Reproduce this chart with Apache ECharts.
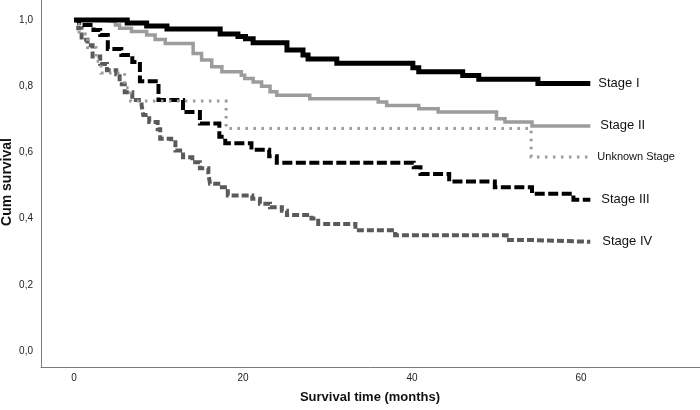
<!DOCTYPE html>
<html>
<head>
<meta charset="utf-8">
<script src="https://cdn.jsdelivr.net/npm/echarts@6/dist/echarts.min.js"></script>
<style>html,body{margin:0;padding:0;background:#fff}#c{width:700px;height:410px}</style>
</head>
<body>
<div id="c"></div>
<script>
const xTicks = [0, 20, 40, 60];
const yTicks = [0, 0.2, 0.4, 0.6, 0.8, 1.0];
const seriesNames = ['Stage I', 'Stage II', 'Unknown Stage', 'Stage III', 'Stage IV'];

const stage1Time = [0, 6.3, 8.6, 11.0, 17.3, 19.4, 20.3, 21.2, 25.2, 27.1, 27.7, 31.1, 40.1, 40.8, 46.0, 47.9, 54.9, 61.1];
const stage1Surv = [1.0, 0.991, 0.982, 0.973, 0.958, 0.95, 0.943, 0.931, 0.909, 0.894, 0.882, 0.869, 0.856, 0.844, 0.832, 0.821, 0.808, 0.808];

const stage2Time = [0, 3.3, 4.9, 5.4, 6.8, 8.6, 9.6, 10.8, 14.1, 15.1, 16.3, 17.5, 19.8, 20.2, 21.2, 22.2, 23.2, 24.0, 27.9, 36.0, 37.0, 40.8, 43.1, 50.0, 51.0, 54.2, 61.1];
const stage2Surv = [1.0, 0.995, 0.985, 0.975, 0.965, 0.955, 0.941, 0.929, 0.899, 0.879, 0.859, 0.844, 0.833, 0.823, 0.813, 0.8, 0.783, 0.773, 0.762, 0.752, 0.742, 0.732, 0.722, 0.702, 0.692, 0.68, 0.68];

const unknownTime = [0, 0.6, 1.6, 2.6, 3.2, 6.0, 6.7, 18.0, 54.1, 61.1];
const unknownSurv = [1.0, 0.958, 0.917, 0.875, 0.84, 0.795, 0.755, 0.672, 0.586, 0.586];

const stage3Time = [0, 0.6, 2.3, 3.1, 4.0, 5.6, 6.9, 7.8, 10.0, 12.9, 14.9, 17.2, 17.9, 21.0, 23.1, 24.0, 40.2, 41.0, 44.4, 49.8, 54.2, 59.1, 61.1];
const stage3Surv = [1.0, 0.985, 0.97, 0.955, 0.912, 0.894, 0.873, 0.815, 0.758, 0.722, 0.687, 0.647, 0.628, 0.608, 0.588, 0.569, 0.555, 0.535, 0.512, 0.495, 0.475, 0.457, 0.457];

const stage4Time = [0, 0.5, 0.9, 1.6, 2.2, 3.1, 3.9, 5.0, 5.4, 6.0, 6.9, 8.0, 8.2, 8.9, 9.9, 10.2, 11.5, 12.0, 12.9, 14.0, 14.9, 15.9, 16.1, 17.5, 18.2, 21.1, 22.0, 23.2, 24.6, 25.2, 28.1, 28.9, 33.3, 38.0, 51.2, 54.3, 61.1];
const stage4Surv = [1.0, 0.975, 0.94, 0.924, 0.89, 0.867, 0.848, 0.836, 0.806, 0.782, 0.758, 0.742, 0.713, 0.692, 0.67, 0.641, 0.631, 0.606, 0.585, 0.57, 0.552, 0.535, 0.505, 0.495, 0.47, 0.46, 0.445, 0.434, 0.424, 0.411, 0.4, 0.384, 0.365, 0.35, 0.335, 0.33, 0.33];

function pairs(t, s) { return t.map((v, i) => [v, s[i]]); }

const FONT = '"Liberation Sans", Arial, sans-serif';
const chart = echarts.init(document.getElementById('c'), null, { renderer: 'canvas' });

function mk(name, t, s, color, width, type, dist, fontSize, z) {
  return {
    name: name, type: 'line', step: 'end', data: pairs(t, s),
    showSymbol: false, symbol: 'none', z: z,
    lineStyle: { color: color, width: width, type: type, cap: 'butt', join: 'miter' },
    endLabel: { show: true, formatter: '{a}', distance: dist, fontSize: fontSize, color: '#111', fontFamily: FONT },
    emphasis: { disabled: true }
  };
}

chart.setOption({
  animation: false,
  backgroundColor: '#ffffff',
  grid: { left: 41, right: 0, top: 0, bottom: 43, containLabel: false, outerBoundsMode: 'none' },
  xAxis: {
    type: 'value', min: -3.905, max: 74.08,
    axisLine: { onZero: false, lineStyle: { color: '#7a7a7a', width: 1 } },
    axisTick: { show: false },
    splitLine: { show: false },
    axisLabel: { customValues: xTicks, color: '#222', fontSize: 10, fontFamily: FONT, margin: 6 }
  },
  yAxis: {
    type: 'value', min: -0.0483, max: 1.0604,
    axisLine: { show: true, onZero: false, lineStyle: { color: '#7a7a7a', width: 1 } },
    axisTick: { show: false },
    splitLine: { show: false },
    axisLabel: { customValues: yTicks, color: '#222', fontSize: 10, fontFamily: FONT, margin: 8,
      formatter: v => v.toFixed(1).replace('.', ',') }
  },
  graphic: [
    { type: 'text', x: 7, y: 182, rotation: Math.PI / 2,
      style: { text: 'Cum survival', font: 'bold 14px ' + FONT, fill: '#111', align: 'center', verticalAlign: 'middle' } },
    { type: 'text', x: 370, y: 397,
      style: { text: 'Survival time (months)', font: 'bold 13px ' + FONT, fill: '#111', align: 'center', verticalAlign: 'middle' } }
  ],
  series: [
    mk(seriesNames[4], stage4Time, stage4Surv, '#5a5a5a', 4, [7, 3], 12, 13, 1),
    mk(seriesNames[3], stage3Time, stage3Surv, '#000000', 4, [10, 3.5], 11, 13, 2),
    mk(seriesNames[2], unknownTime, unknownSurv, '#9a9a9a', 3, [2.5, 5.5], 7, 11, 3),
    mk(seriesNames[1], stage2Time, stage2Surv, '#9c9c9c', 3.5, 'solid', 10, 13, 4),
    mk(seriesNames[0], stage1Time, stage1Surv, '#000000', 5, 'solid', 8, 13, 5)
  ]
});
</script>
</body>
</html>
